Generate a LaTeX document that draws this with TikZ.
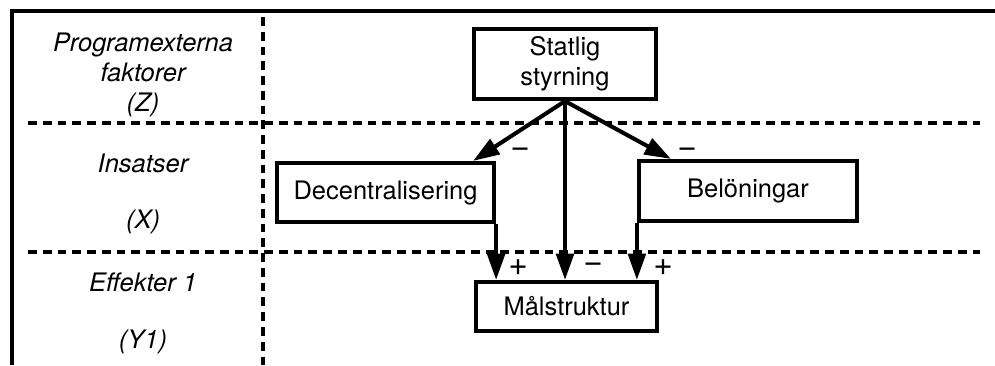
\documentclass[tikz,border=0pt]{standalone}
\usepackage{fontspec}
\setmainfont{TeX Gyre Heros}
\usetikzlibrary{arrows.meta,positioning,calc}

\begin{document}
\begin{tikzpicture}[
    font=\fontsize{14.5}{17}\selectfont,
    box/.style={draw, line width=2.4pt, align=center, inner sep=4pt},
    arr/.style={-{Triangle[length=15pt,width=10pt]}, line width=2.3pt},
    divider/.style={dash pattern=on 5pt off 3.4pt, line width=1.9pt},
    lbl/.style={font=\fontsize{14.5}{17}\selectfont\itshape, align=center},
    sign/.style={inner sep=0pt, font=\fontsize{19}{20}\selectfont},
  ]
    \useasboundingbox (0,0) rectangle (19.9,-7.3);

    % --- frame and level grid ---
    \draw[line width=1.9pt] (0.24,-7.3) -- (0.24,-0.22) -- (19.9,-0.22);
    \draw[divider] (5.26,-0.34) -- (5.26,-7.3);
    \draw[divider] (0.56,-2.46) -- (19.6,-2.46);
    \draw[divider] (0.56,-5.04) -- (19.6,-5.04);

    % --- level labels ---
    \node[lbl] (z-lbl) at (2.86,-1.5) {Programexterna\\faktorer\\(Z)};
    \node[lbl] (x-lbl) at (2.86,-3.26) {Insatser};
    \node[lbl] (x-sym) at (2.86,-4.44) {(X)};
    \node[lbl] (y-lbl) at (2.86,-5.64) {Effekter 1};
    \node[lbl] (y-sym) at (2.86,-6.84) {(Y1)};

    % --- boxes ---
    \node[box, minimum width=3.64cm, minimum height=1.4cm] (statlig)
      at (11.3,-1.28) {Statlig\\styrning};
    \node[box, minimum width=4.34cm, minimum height=1.18cm] (decent)
      at (7.71,-3.85) {Decentralisering};
    \node[box, minimum width=4.36cm, minimum height=1.2cm] (belon)
      at (14.96,-3.82) {Belöningar};
    \node[box, minimum width=3.62cm, minimum height=0.98cm] (mal)
      at (11.33,-6.13) {Målstruktur};

    % --- influences ---
    \draw[arr] (statlig.south) -- ([xshift=-0.46cm]decent.north east);
    \draw[arr] (statlig.south) -- ([xshift=0.68cm]belon.north west);
    \draw[arr] (statlig.south) -- (statlig.south |- mal.north);
    \draw[arr] (decent.south east) -- (decent.south east |- mal.north);
    \draw[arr] (belon.south west) -- (belon.south west |- mal.north);

    % signs
    \node[sign] (s-dec) at (10.4,-3.06) {−};
    \node[sign] (s-bel) at (13.74,-3.06) {−};
    \node[sign] (s-dec-mal) at (10.36,-5.36) {+};
    \node[sign] (s-sta-mal) at (11.86,-5.36) {−};
    \node[sign] (s-bel-mal) at (13.26,-5.36) {+};
  \end{tikzpicture}
\end{document}
